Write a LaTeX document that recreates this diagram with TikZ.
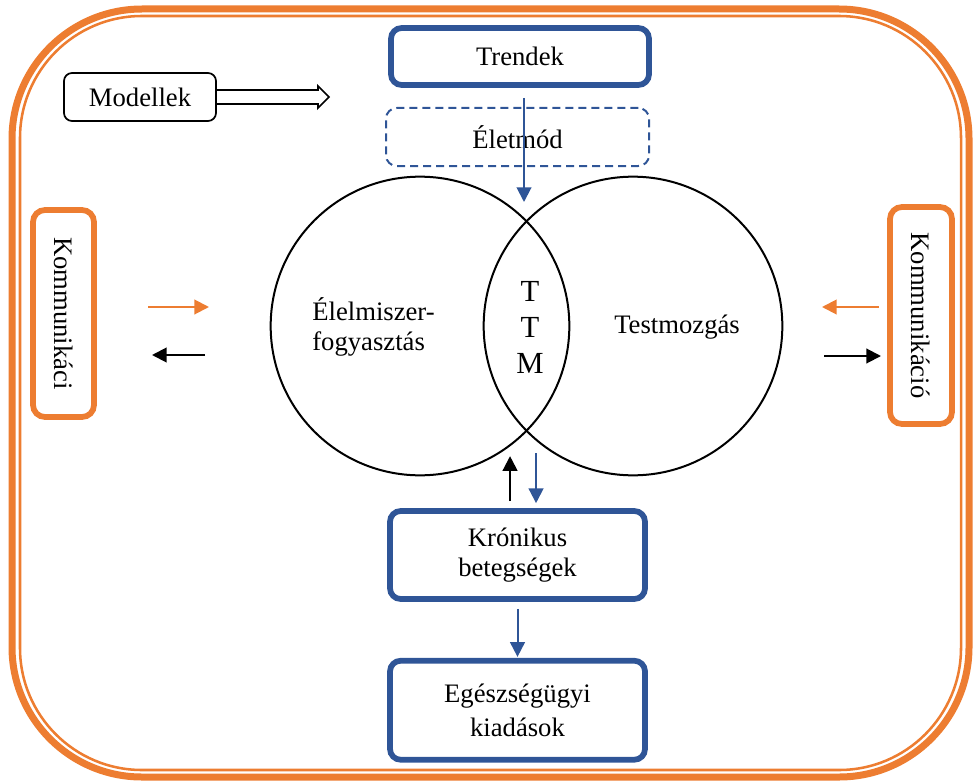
\documentclass[tikz,border=0pt]{standalone}
\usepackage{fontspec}
\setmainfont{Liberation Serif}
\usetikzlibrary{arrows.meta,positioning}
\definecolor{korange}{HTML}{ED7D31}
\definecolor{kblue}{HTML}{2F5597}

\begin{document}
\begin{tikzpicture}[x=0.75pt,y=0.75pt,font=\fontsize{20}{23}\selectfont,
        bluebox/.style={draw=kblue,line width=4.3pt,rounded corners=8pt,
            minimum width=191.25pt,align=center,inner sep=0pt},
        orangebox/.style={draw=korange,line width=4.3pt,rounded corners=9pt,
            rotate=-90,inner sep=0pt},
        barrow/.style={draw=kblue,line width=1.5pt,-{Triangle[length=11pt,width=11pt]}},
        karrow/.style={draw=black,line width=1.5pt,-{Triangle[length=11pt,width=11pt]}},
        oarrow/.style={draw=korange,line width=1.5pt,-{Triangle[length=11pt,width=11pt]}}]
    \useasboundingbox (0,0) rectangle (973,-781);
    \draw[korange,line width=5.25pt,rounded corners=97.5pt] (12,-9) rectangle (969,-777);
    \draw[korange,line width=1.9pt,rounded corners=91.5pt] (20,-16) rectangle (961,-770);

    \node[bluebox,minimum width=193.5pt,minimum height=42.75pt] (trend) at (520,-56.5) {Trendek};
    \node[draw=kblue,line width=1.5pt,dash pattern=on 6pt off 3.75pt,rounded corners=8pt,
        minimum width=197.25pt,minimum height=43.5pt] (elet) at (517.5,-137) {Életmód};
    \node[draw,line width=1.3pt,rounded corners=6pt,minimum width=114pt,minimum height=36pt] (modell) at (140,-97) {Modellek};

    \node[circle,draw,line width=1.5pt,minimum size=224pt] (lc) at (420,-326) {};
    \node[circle,draw,line width=1.5pt,minimum size=224pt] (rc) at (633,-326) {};
    \node[align=left] (food) at (373.5,-327) {Élelmiszer-\\fogyasztás};
    \node (move) at (677,-327) {Testmozgás};
    \node[align=center,font=\fontsize{23}{27}\selectfont] (ttm) at (530,-327) {T\\T\\M};

    \node[orangebox,minimum width=155.25pt,minimum height=45.75pt] (kom1) at (63.5,-313.5) {Kommunikáci};
    \node[orangebox,minimum width=162.75pt,minimum height=46.5pt] (kom2) at (921,-315.5) {Kommunikáció};

    \node[bluebox,minimum height=66pt] (kron) at (517.5,-555) {Krónikus\\betegségek};
    \node[bluebox,minimum height=74.25pt,below=42pt of kron,font=\fontsize{20}{26}\selectfont] (eg) {Egészségügyi\\kiadások};

    \coordinate (top) at (524,-222);
    \coordinate (mtip) at (329,-97);
    \coordinate (l1) at (148,-307); \coordinate (l2) at (209,-307);
    \coordinate (l3) at (205,-355); \coordinate (l4) at (152,-355);
    \coordinate (r1) at (879,-307); \coordinate (r2) at (822,-307);
    \coordinate (r3) at (824,-356); \coordinate (r4) at (881,-356);

    \draw[line width=1.3pt,line join=miter] ([yshift=5.25pt]modell.east)
        -- ([xshift=-8.25pt,yshift=5.25pt]mtip) -- ([xshift=-8.25pt,yshift=8.25pt]mtip) -- (mtip)
        -- ([xshift=-8.25pt,yshift=-8.25pt]mtip) -- ([xshift=-8.25pt,yshift=-5.25pt]mtip)
        -- ([yshift=-5.25pt]modell.east);
    \draw[barrow,shorten <=7.5pt,shorten >=15pt] (trend.south -| top) -- (top);
    \draw[oarrow] (l1) -- (l2);
    \draw[karrow] (l3) -- (l4);
    \draw[oarrow] (r1) -- (r2);
    \draw[karrow] (r3) -- (r4);
    \draw[karrow,shorten <=5.25pt] ([xshift=-5.6pt]kron.north) -- ++(0,52);
    \draw[barrow,shorten >=3.75pt] ([xshift=13.9pt,yshift=41.25pt]kron.north) -- ([xshift=13.9pt]kron.north);
    \draw[barrow,shorten <=5.25pt,shorten >=0.75pt] (kron) -- (eg);
\end{tikzpicture}
\end{document}
